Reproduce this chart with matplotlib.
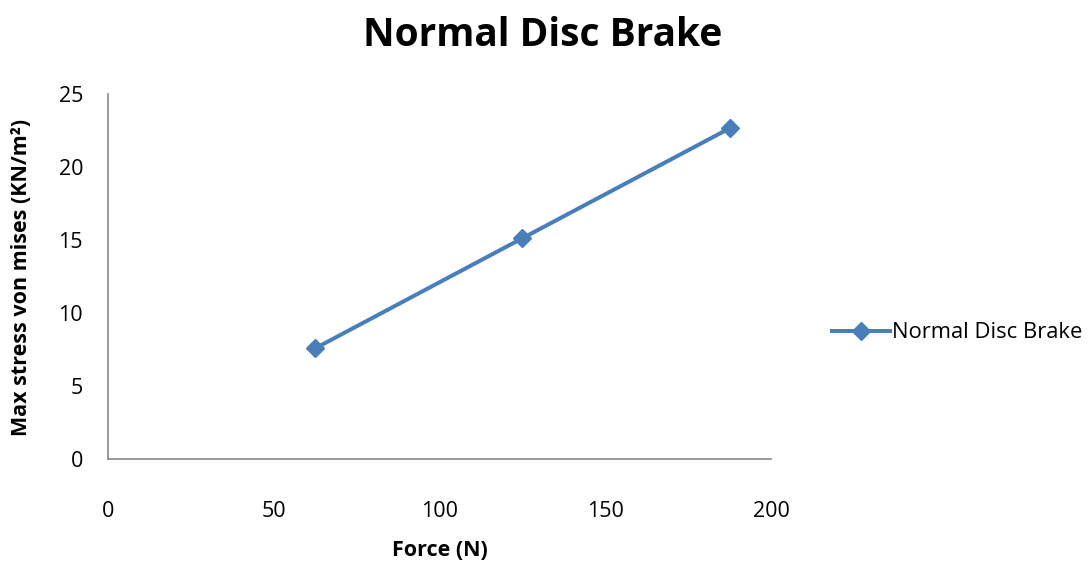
import matplotlib
matplotlib.use("Agg")
import matplotlib.pyplot as plt

force = [62.5, 125, 187.5]
stress = [7.58, 15.12, 22.65]
series_name = "Normal Disc Brake"
x_ticks = [0, 50, 100, 150, 200]
y_ticks = [0, 5, 10, 15, 20, 25]

plt.rcParams['font.family'] = ['Open Sans', 'DejaVu Sans']

fig = plt.figure(figsize=(10.91, 5.65), dpi=100)
ax = fig.add_axes([108/1091, 1-459/565, (771-108)/1091, (459-94)/565])

color = '#4A7EBB'
ax.plot(force, stress, color=color, lw=2.9, marker='D', markersize=9.5,
        markerfacecolor=color, markeredgecolor=color, label=series_name)

ax.set_xlim(0, 200)
ax.set_ylim(0, 25)
ax.set_xticks(x_ticks)
ax.set_yticks(y_ticks)
ax.tick_params(axis='both', length=0, labelsize=15.5, colors='black')
ax.tick_params(axis='x', pad=30)
ax.tick_params(axis='y', pad=18)
for s in ['top', 'right']:
    ax.spines[s].set_visible(False)
for s in ['left', 'bottom']:
    ax.spines[s].set_color('#888888')
    ax.spines[s].set_linewidth(1.2)

fig.text(440/1091, 1-551/565, 'Force (N)', fontsize=15.5, fontweight='bold',
         ha='center', va='center')
fig.text(22/1091, 1-277/565, 'Max stress von mises (KN/m²)', fontsize=15.5,
         fontweight='bold', ha='center', va='center', rotation=90)
fig.text(543/1091, 1-35/565, series_name, fontsize=28, fontweight='bold',
         ha='center', va='center')

leg = ax.legend(loc='center left', bbox_to_anchor=((832 - 108)/663, (459-333)/365),
                frameon=False, fontsize=15.8, handlelength=2.65, handletextpad=0.1,
                borderaxespad=0, borderpad=0)

fig.savefig('out.png', dpi=100)
